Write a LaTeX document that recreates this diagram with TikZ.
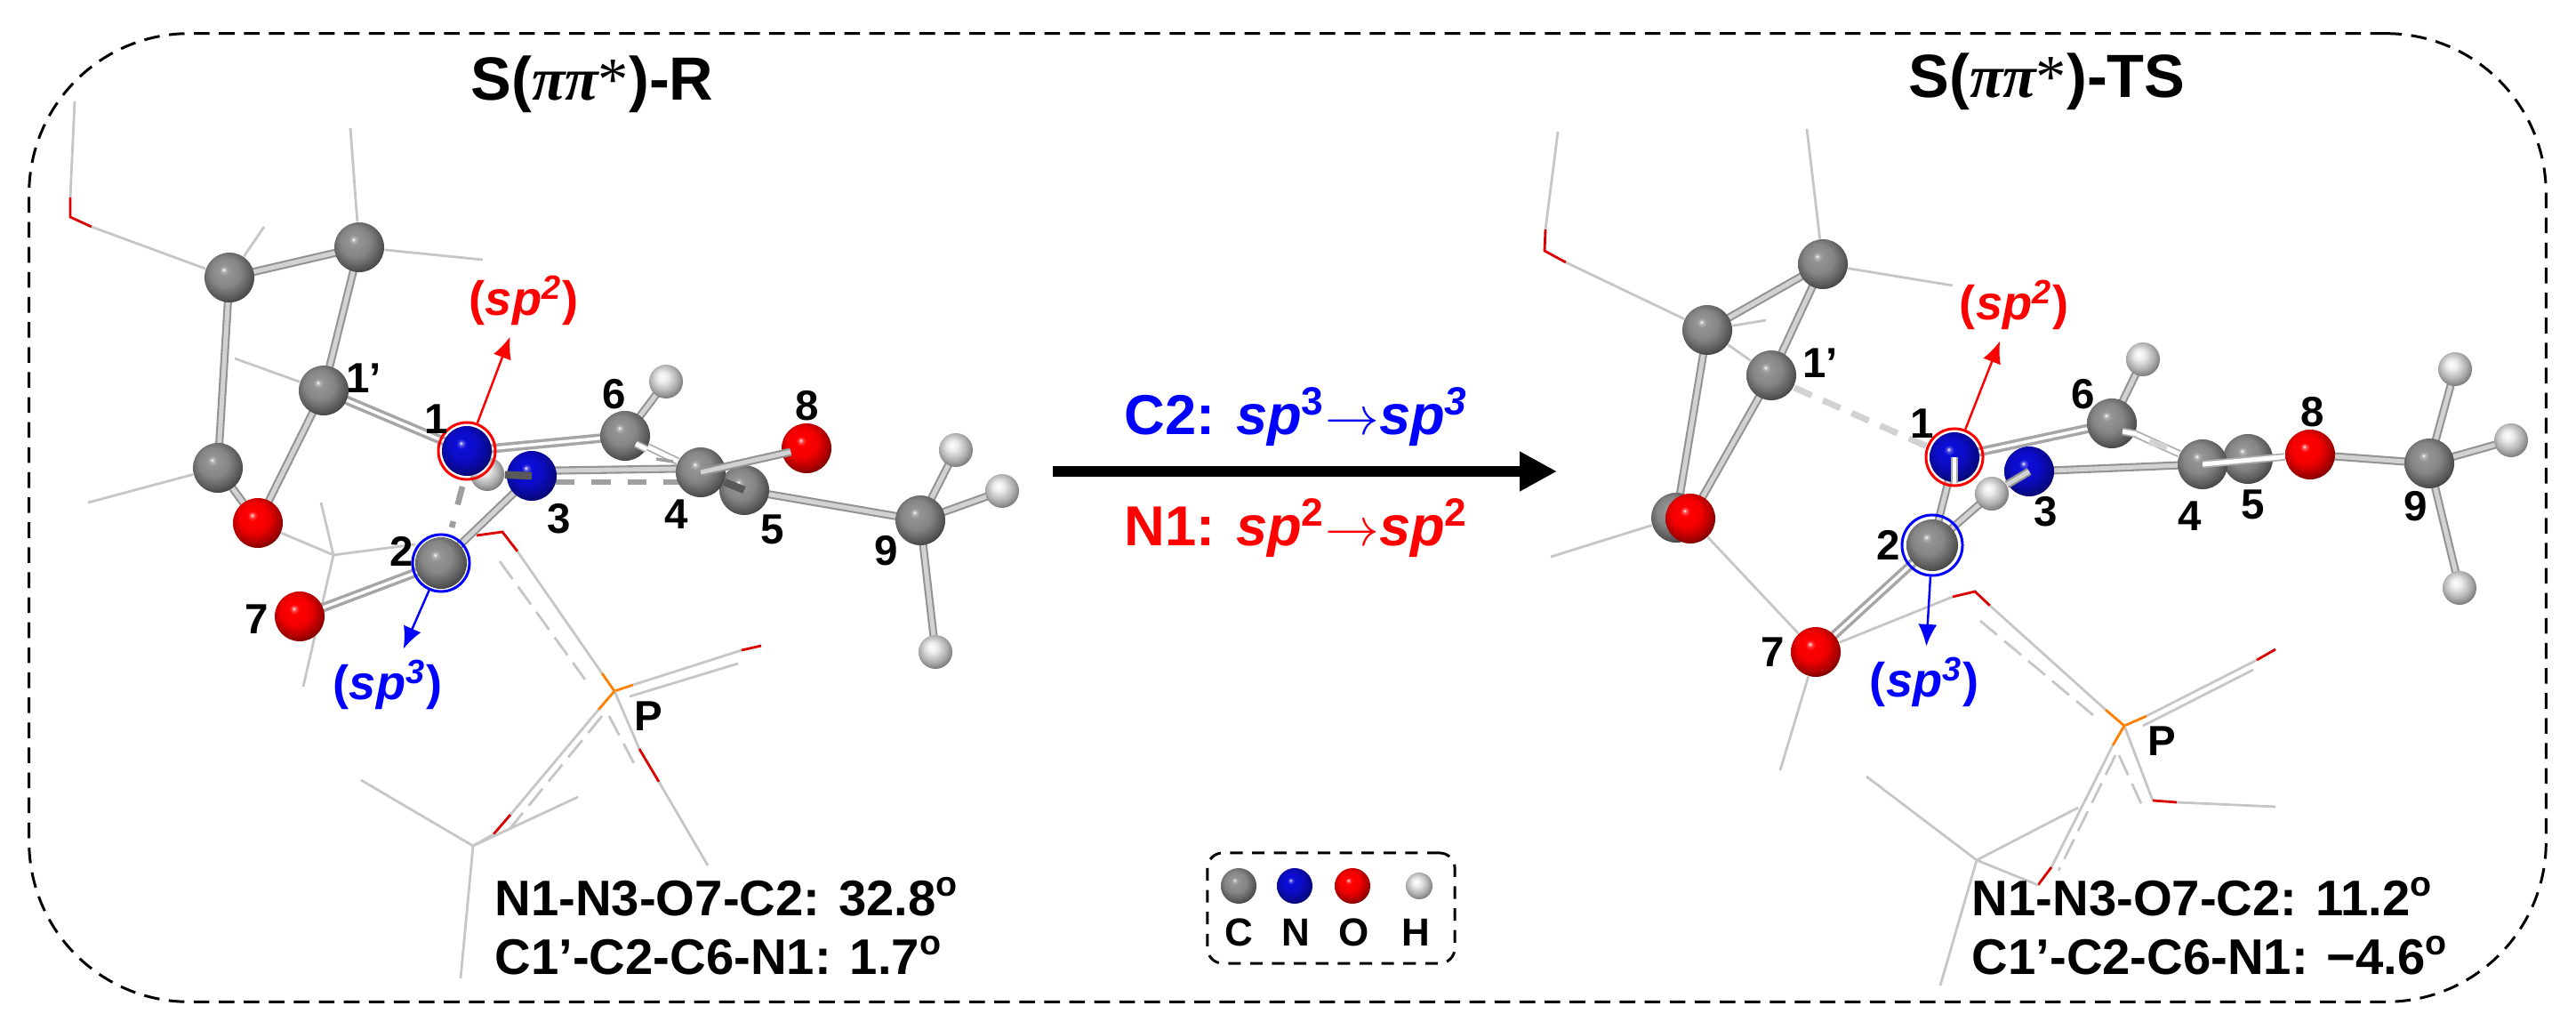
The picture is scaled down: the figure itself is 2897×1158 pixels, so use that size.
\documentclass[tikz,border=0pt]{standalone}
\usepackage{fontspec}
\setmainfont{Liberation Sans}
\newfontfamily\greekserif{Liberation Serif}
\usetikzlibrary{arrows.meta}
\pgfdeclarelayer{wirelayer}
\pgfdeclarelayer{bondlayer}
\pgfdeclarelayer{frontlayer}
\pgfsetlayers{wirelayer,bondlayer,main,frontlayer}
\definecolor{atomgray}{gray}{0.58}
\definecolor{atomblue}{rgb}{0.05,0.05,0.85}
\definecolor{atomred}{rgb}{1,0,0}
\definecolor{atomwhite}{gray}{0.92}
\pgfdeclareradialshading{ballC}{\pgfpoint{-6bp}{8bp}}{color(0bp)=(white); color(2bp)=(atomgray!70!white); color(5bp)=(atomgray); color(15bp)=(atomgray!90!black); color(25bp)=(atomgray!60!black); color(33bp)=(atomgray!30!black); color(50bp)=(black)}
\pgfdeclareradialshading{ballN}{\pgfpoint{-6bp}{8bp}}{color(0bp)=(white); color(2bp)=(atomblue!70!white); color(5bp)=(atomblue); color(15bp)=(atomblue!90!black); color(25bp)=(atomblue!65!black); color(33bp)=(atomblue!35!black); color(50bp)=(black)}
\pgfdeclareradialshading{ballO}{\pgfpoint{-6bp}{8bp}}{color(0bp)=(white); color(2bp)=(atomred!70!white); color(5bp)=(atomred); color(15bp)=(atomred!95!black); color(25bp)=(atomred!65!black); color(33bp)=(atomred!30!black); color(50bp)=(black)}
\pgfdeclareradialshading{ballH}{\pgfpoint{-6bp}{8bp}}{color(0bp)=(white); color(8bp)=(atomwhite); color(20bp)=(atomwhite!75!black); color(33bp)=(atomwhite!40!black); color(50bp)=(black)}
\tikzset{
  atomC/.style={circle, minimum size=0.56cm, inner sep=0pt, shading=ballC},
  atomN/.style={atomC, shading=ballN},
  atomO/.style={atomC, shading=ballO},
  atomH/.style={atomC, minimum size=0.38cm, shading=ballH},
  stick/.style={draw=gray!85, line width=.6pt, double=gray!35, double distance=1.4pt, shorten <=-3pt, shorten >=-3pt},
  whitestick/.style={draw=gray!65, line width=.5pt, double=white, double distance=1.4pt},
  darkstub/.style={draw=gray!70!black, line width=2.4pt},
  dblbond/.style={draw=gray!70, line width=1pt, double=white, double distance=1pt, shorten <=-3pt, shorten >=-3pt},
  dashbond/.style={draw=gray!75, line width=1.9pt, dash pattern=on 6pt off 5.5pt},
  whitedash/.style={draw=gray!35, line width=2pt, dash pattern=on 6pt off 4pt},
  wire/.style={draw=gray!45, line width=.8pt},
  wirered/.style={draw=red!85!black, line width=.8pt},
  wireorg/.style={draw=orange, line width=.8pt},
  wiredash/.style={draw=gray!45, line width=.8pt, dash pattern=on 7pt off 3pt},
  num/.style={font=\bfseries\fontsize{13.5}{16}\selectfont},
  titletxt/.style={font=\bfseries\fontsize{19.5}{23}\selectfont},
  dihedral/.style={font=\bfseries\fontsize{16}{19}\selectfont, anchor=west, inner sep=0pt},
  hybtxt/.style={font=\bfseries\fontsize{15.4}{19}\selectfont},
  schemetxt/.style={font=\bfseries\fontsize{18}{22}\selectfont},
  legendtxt/.style={font=\bfseries\fontsize{12.5}{15}\selectfont},
  ringmark/.style={circle, draw, line width=.85pt, minimum size=0.64cm, inner sep=0pt}
}
\newcommand{\pilabel}{{\greekserif\itshape ππ}{\greekserif\mdseries *}}
\begin{document}
\begin{tikzpicture}[x=0.01cm, y=-0.01cm]
\useasboundingbox (0,0) rectangle (2897,1158);
\node[draw, line width=.85pt, rounded corners=1.8cm, dash pattern=on 5pt off 3pt, minimum width=28.29cm, minimum height=10.88cm, inner sep=0pt] (frame) at (1448,582) {};

% left molecule
\node[atomC] (lCa) at (258,312) {};
\node[atomC] (lCb) at (404,278) {};
\node[atomC] (lC1p) at (364,439) {};
\node[atomC] (lCc) at (245,526) {};
\node[atomO] (lOr) at (290,588) {};
\node[atomH] (lHn) at (548,533) {};
\node[atomN] (lN1) at (525,507) {};
\node[atomN] (lN3) at (598,535) {};
\node[atomC] (lC6) at (703,490) {};
\node[atomH] (lH6) at (749,429) {};
\node[atomC] (lC5) at (837,551) {};
\node[atomC] (lC4) at (788,531) {};
\node[atomO] (lO8) at (907,504) {};
\node[atomC] (lC9) at (1035,585) {};
\node[atomH] (lHa) at (1075,506) {};
\node[atomH] (lHb) at (1127,552) {};
\node[atomH] (lHc) at (1052,733) {};
\node[atomC, minimum size=0.58cm] (lC2) at (496,633) {};
\node[atomO] (lO7) at (337,693) {};

\coordinate (lD1) at (625,542);
\coordinate (lD2) at (765,542);
\coordinate (lD3) at (520,547);
\coordinate (lD4) at (508,593);
\coordinate (lD5) at (738,516);
\coordinate (lD6) at (757,519);
\coordinate (lS1) at (715,499);
\coordinate (lS2) at (727,505);
\begin{pgfonlayer}{bondlayer}
\draw[stick] (lCa) -- (lCb);
\draw[stick] (lCa) -- (lCc);
\draw[stick] (lCb) -- (lC1p);
\draw[stick] (lC1p) -- (lOr);
\draw[stick] (lCc) -- (lOr);
\draw[dblbond] (lC1p) -- (lN1);
\draw[dblbond] (lN1) -- (lC6);
\draw[stick] (lC6) -- (lH6);
\draw[whitestick] (lC6) -- (lC4);
\draw[stick] (lN3) -- (lC2);
\draw[stick] (lN3.12) -- (lC4.172);
\draw[stick] (lC5) -- (lC9);
\draw[stick] (lC9) -- (lHa);
\draw[stick] (lC9) -- (lHb);
\draw[stick] (lC9) -- (lHc);
\draw[dblbond] (lC2) -- (lO7);
\draw[dashbond] (lD3) -- (lD4);
\draw[dashbond] (lD1) -- (lD2);
\draw[dashbond, line width=1pt] (lD5) -- (lD6);
\end{pgfonlayer}
\begin{pgfonlayer}{frontlayer}
\draw[stick, shorten <=0pt] (lC4.center) -- (lO8);
\draw[darkstub] (lC5.center) -- (lC4);
\draw[darkstub] (lN3.center) -- (lHn);
\draw[whitestick] (lS1) -- (lS2);
\end{pgfonlayer}

% left wires
\coordinate (lw1) at (84,114);
\coordinate (lw2) at (79,222);
\coordinate (lw3) at (79,244);
\coordinate (lw4) at (103,255);
\coordinate (lw5) at (297,255);
\coordinate (lw6) at (394,144);
\coordinate (lw7) at (543,292);
\coordinate (lw8) at (264,403);
\coordinate (lw9) at (99,565);
\coordinate (lJ) at (375,624);
\coordinate (lJu) at (361,565);
\coordinate (lJr) at (467,612);
\coordinate (lJd) at (341,772);
\coordinate (lPa) at (536,602);
\coordinate (lPb) at (565,598);
\coordinate (lPc) at (582,620);
\coordinate (lPd) at (677,757);
\coordinate (lP) at (691,777);
\coordinate (lPe) at (562,631);
\coordinate (lPf) at (658,764);
\coordinate (lPg) at (712,770);
\coordinate (lPh) at (834,731);
\coordinate (lPi) at (856,726);
\coordinate (lPj) at (708,783);
\coordinate (lPk) at (830,746);
\coordinate (lPl) at (719,842);
\coordinate (lPm) at (741,879);
\coordinate (lPn) at (796,973);
\coordinate (lPo) at (685,805);
\coordinate (lPp) at (716,864);
\coordinate (lPq) at (673,798);
\coordinate (lPr) at (574,916);
\coordinate (lPs) at (555,938);
\coordinate (lK) at (532,951);
\coordinate (lPt) at (677,805);
\coordinate (lPu) at (574,931);
\coordinate (lKa) at (406,877);
\coordinate (lKb) at (650,896);
\coordinate (lKc) at (518,1100);
\begin{pgfonlayer}{wirelayer}
\draw[wire] (lw1) -- (lw2);
\draw[wirered] (lw2) -- (lw3) -- (lw4);
\draw[wire] (lw4) -- (lCa);
\draw[wire] (lw5) -- (lCa);
\draw[wire] (lw6) -- (lCb);
\draw[wire] (lw7) -- (lCb);
\draw[wire] (lw8) -- (lC1p);
\draw[wire] (lw9) -- (lCc);
\draw[wire] (lOr) -- (lJ);
\draw[wire] (lJu) -- (lJ);
\draw[wire] (lJr) -- (lJ);
\draw[wire] (lJd) -- (lJ);
\draw[wirered] (lPa) -- (lPb) -- (lPc);
\draw[wire] (lPc) -- (lPd);
\draw[wireorg] (lPd) -- (lP);
\draw[wiredash] (lPe) -- (lPf);
\draw[wireorg] (lP) -- (lPg);
\draw[wire] (lPg) -- (lPh);
\draw[wirered] (lPh) -- (lPi);
\draw[wire] (lPj) -- (lPk);
\draw[wire] (lP) -- (lPl);
\draw[wirered] (lPl) -- (lPm);
\draw[wire] (lPm) -- (lPn);
\draw[wiredash] (lPo) -- (lPp);
\draw[wireorg] (lP) -- (lPq);
\draw[wire] (lPq) -- (lPr);
\draw[wirered] (lPr) -- (lPs);
\draw[wire] (lPs) -- (lK);
\draw[wiredash] (lPt) -- (lPu);
\draw[wire] (lK) -- (lKa);
\draw[wire] (lK) -- (lKb);
\draw[wire] (lK) -- (lKc);
\end{pgfonlayer}

% left labels
\begin{pgfonlayer}{frontlayer}
\node[ringmark, draw=red] (lN1ring) at (525,507) {};
\node[ringmark, draw=blue] (lC2ring) at (496,633) {};
\node[hybtxt, text=red] (lsp2) at (589,338) {(\textit{sp}\textsuperscript{\textit{2}})};
\node[hybtxt, text=blue] (lsp3) at (436,770) {(\textit{sp}\textsuperscript{\textit{3}})};
\draw[red, line width=.7pt, -{Latex[length=7pt,width=6pt]}] (lN1ring) -- (lsp2);
\draw[blue, line width=.7pt, -{Latex[length=7pt,width=6pt]}] (lC2ring) -- (lsp3);
\node[num] (ln1p) at (409,425) {1’};
\node[num] (ln1) at (491,471) {1};
\node[num] (ln2) at (452,620) {2};
\node[num] (ln3) at (629,583) {3};
\node[num] (ln4) at (761,578) {4};
\node[num] (ln5) at (869,595) {5};
\node[num] (ln6) at (691,443) {6};
\node[num] (ln7) at (289,696) {7};
\node[num] (ln8) at (908,456) {8};
\node[num] (ln9) at (997,619) {9};
\node[num] (lnP) at (729,805) {P};
\end{pgfonlayer}
\node[titletxt] (ltitle) at (666,95) {S(\pilabel)-R};
\node[dihedral] (ldih1) at (556,1008) {N1-N3-O7-C2: 32.8\textsuperscript{o}};
\node[dihedral] (ldih2) at (556,1074) {C1’-C2-C6-N1: 1.7\textsuperscript{o}};

% right molecule
\node[atomC] (rCa) at (1920,371) {};
\node[atomC] (rCb) at (2050,297) {};
\node[atomC] (rC1p) at (1992,422) {};
\node[atomC] (rCc) at (1885,582) {};
\node[atomO] (rOr) at (1901,583) {};
\node[atomH] (rHn) at (2240,555) {};
\node[atomN] (rN1) at (2198,514) {};
\node[atomN] (rN3) at (2282,530) {};
\node[atomC] (rC6) at (2375,476) {};
\node[atomH] (rH6) at (2410,404) {};
\node[atomC] (rC5) at (2528,516) {};
\node[atomC] (rC4) at (2477,522) {};
\node[atomO] (rO8) at (2598,511) {};
\node[atomC] (rC9) at (2732,521) {};
\node[atomH] (rHa) at (2761,415) {};
\node[atomH] (rHb) at (2824,495) {};
\node[atomH] (rHc) at (2766,661) {};
\node[atomC, minimum size=0.58cm] (rC2) at (2173,613) {};
\node[atomO] (rO7) at (2042,733) {};

\coordinate (rD1) at (2018,436);
\coordinate (rD2) at (2172,504);
\coordinate (rD3) at (2417,497);
\coordinate (rD4) at (2440,503);
\coordinate (rS1) at (2387,485);
\coordinate (rS2) at (2403,488);
\begin{pgfonlayer}{bondlayer}
\draw[stick] (rCa) -- (rCb);
\draw[stick] (rCa) -- (rCc);
\draw[stick] (rCb) -- (rC1p);
\draw[stick] (rC1p) -- (rOr);
\draw[whitedash] (rD1) -- (rD2);
\draw[dblbond] (rN1) -- (rC6);
\draw[stick] (rN1) -- (rC2);
\draw[stick] (rC2) -- (rHn);
\draw[stick] (rN3) -- (rC4);
\draw[stick] (rC6) -- (rH6);
\draw[whitestick] (rC6) -- (rC4);
\draw[whitedash] (rD3) -- (rD4);
\draw[stick] (rO8) -- (rC9);
\draw[stick] (rC9) -- (rHa);
\draw[stick] (rC9) -- (rHb);
\draw[stick] (rC9) -- (rHc);
\draw[dblbond] (rC2) -- (rO7);
\end{pgfonlayer}
\begin{pgfonlayer}{frontlayer}
\draw[whitestick] (rC4.center) -- (rO8);
\draw[whitestick] (rN1.center) -- (rN1.south);
\draw[stick, shorten <=0pt, shorten >=0pt] (rN3.center) -- (rHn);
\draw[whitestick] (rS1) -- (rS2);
\end{pgfonlayer}

% right wires
\coordinate (rw1) at (1752,148);
\coordinate (rw2) at (1738,258);
\coordinate (rw3) at (1737,282);
\coordinate (rw4) at (1761,295);
\coordinate (rw5) at (1986,360);
\coordinate (rw6) at (2032,145);
\coordinate (rw7) at (2196,321);
\coordinate (rw8) at (1744,626);
\coordinate (rw9) at (2002,866);
\coordinate (rPa) at (2196,671);
\coordinate (rPb) at (2221,665);
\coordinate (rPc) at (2238,681);
\coordinate (rPd) at (2368,798);
\coordinate (rP) at (2389,816);
\coordinate (rPe) at (2227,698);
\coordinate (rPf) at (2360,809);
\coordinate (rPg) at (2414,805);
\coordinate (rPh) at (2538,742);
\coordinate (rPi) at (2559,730);
\coordinate (rPj) at (2410,816);
\coordinate (rPk) at (2534,753);
\coordinate (rPl) at (2421,900);
\coordinate (rPm) at (2448,902);
\coordinate (rPn) at (2559,907);
\coordinate (rPo) at (2383,849);
\coordinate (rPp) at (2410,908);
\coordinate (rPq) at (2376,838);
\coordinate (rPr) at (2307,975);
\coordinate (rPs) at (2292,995);
\coordinate (rK) at (2223,967);
\coordinate (rPt) at (2379,849);
\coordinate (rPu) at (2315,979);
\coordinate (rKa) at (2099,873);
\coordinate (rKb) at (2337,908);
\coordinate (rKc) at (2182,1108);
\begin{pgfonlayer}{wirelayer}
\draw[wire] (rw1) -- (rw2);
\draw[wirered] (rw2) -- (rw3) -- (rw4);
\draw[wire] (rw4) -- (rCa);
\draw[wire] (rCa) -- (rC1p);
\draw[wire] (rw5) -- (rCa);
\draw[wire] (rw6) -- (rCb);
\draw[wire] (rw7) -- (rCb);
\draw[wire] (rw8) -- (rCc);
\draw[wire] (rOr) -- (rO7);
\draw[wire] (rw9) -- (rO7);
\draw[wire] (rO7) -- (rPa);
\draw[wirered] (rPa) -- (rPb) -- (rPc);
\draw[wire] (rPc) -- (rPd);
\draw[wireorg] (rPd) -- (rP);
\draw[wiredash] (rPe) -- (rPf);
\draw[wireorg] (rP) -- (rPg);
\draw[wire] (rPg) -- (rPh);
\draw[wirered] (rPh) -- (rPi);
\draw[wire] (rPj) -- (rPk);
\draw[wire] (rP) -- (rPl);
\draw[wirered] (rPl) -- (rPm);
\draw[wire] (rPm) -- (rPn);
\draw[wiredash] (rPo) -- (rPp);
\draw[wireorg] (rP) -- (rPq);
\draw[wire] (rPq) -- (rPr);
\draw[wirered] (rPr) -- (rPs);
\draw[wire] (rPs) -- (rK);
\draw[wiredash] (rPt) -- (rPu);
\draw[wire] (rK) -- (rKa);
\draw[wire] (rK) -- (rKb);
\draw[wire] (rK) -- (rKc);
\end{pgfonlayer}

% right labels
\begin{pgfonlayer}{frontlayer}
\node[ringmark, draw=red] (rN1ring) at (2198,514) {};
\node[ringmark, draw=blue, minimum size=0.68cm] (rC2ring) at (2173,613) {};
\node[hybtxt, text=red] (rsp2) at (2265,343) {(\textit{sp}\textsuperscript{\textit{2}})};
\node[hybtxt, text=blue] (rsp3) at (2164,767) {(\textit{sp}\textsuperscript{\textit{3}})};
\draw[red, line width=.7pt, -{Latex[length=7pt,width=6pt]}] (rN1ring) -- (rsp2);
\draw[blue, line width=.7pt, -{Latex[length=7pt,width=6pt]}] (rC2ring) -- (rsp3);
\node[num] (rn1p) at (2047,408) {1’};
\node[num] (rn1) at (2162,476) {1};
\node[num] (rn2) at (2124,613) {2};
\node[num] (rn3) at (2301,575) {3};
\node[num] (rn4) at (2463,580) {4};
\node[num] (rn5) at (2534,567) {5};
\node[num] (rn6) at (2343,443) {6};
\node[num] (rn7) at (1994,733) {7};
\node[num] (rn8) at (2601,463) {8};
\node[num] (rn9) at (2717,569) {9};
\node[num] (rnP) at (2431,833) {P};
\end{pgfonlayer}
\node[titletxt] (rtitle) at (2302,92) {S(\pilabel)-TS};
\node[dihedral] (rdih1) at (2217,1008) {N1-N3-O7-C2: 11.2\textsuperscript{o}};
\node[dihedral] (rdih2) at (2217,1074) {C1’-C2-C6-N1: −4.6\textsuperscript{o}};

% scheme arrow
\coordinate (arrstart) at (1184,530);
\coordinate (arrend) at (1751,530);
\draw[line width=3.2pt, -{Triangle[length=0.42cm,width=0.42cm]}] (arrstart) -- (arrend);
\node[schemetxt, text=blue] (c2txt) at (1458,469) {C2: \textit{sp}\textsuperscript{3}$\rightarrow$\textit{sp}\textsuperscript{\textit{3}}};
\node[schemetxt, text=red] (n1txt) at (1458,594) {N1: \textit{sp}\textsuperscript{2}$\rightarrow$\textit{sp}\textsuperscript{2}};

% legend
\node[draw, line width=.85pt, rounded corners=0.17cm, dash pattern=on 4pt off 3pt, minimum width=2.78cm, minimum height=1.24cm, inner sep=0pt] (legend) at (1497,1021) {};
\node[atomC, minimum size=0.4cm] (legC) at (1393,996) {};
\node[atomN, minimum size=0.4cm] (legN) at (1456,996) {};
\node[atomO, minimum size=0.4cm] (legO) at (1521,996) {};
\node[atomH, minimum size=0.3cm] (legH) at (1596,996) {};
\node[legendtxt] (txtC) at (1393,1048) {C};
\node[legendtxt] (txtN) at (1457,1048) {N};
\node[legendtxt] (txtO) at (1523,1048) {O};
\node[legendtxt] (txtH) at (1592,1048) {H};
\end{tikzpicture}
\end{document}
